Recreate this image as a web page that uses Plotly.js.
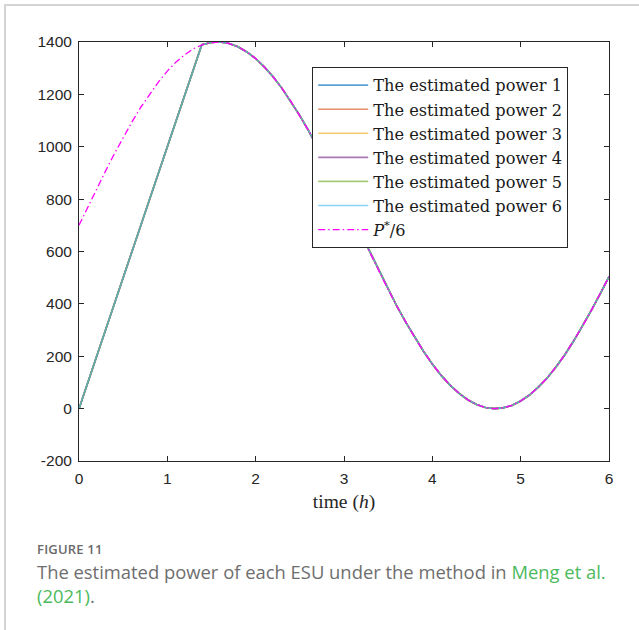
<!DOCTYPE html>
<html>
<head>
<meta charset="utf-8">
<script src="https://cdn.plot.ly/plotly-3.0.1.min.js"></script>
<style>
  html, body { margin: 0; padding: 0; background: #fff; }
  #wrap { position: relative; width: 639px; height: 630px; overflow: hidden; }
  #frame { position: absolute; left: 4px; top: 4px; width: 640px; height: 640px;
           border-left: 2px solid #d4d4d4; border-top: 2px solid #d4d4d4; }
  #chart { position: absolute; left: 0; top: 0; width: 639px; height: 630px; }
  #caption { position: absolute; left: 37px; top: 540px; width: 595px;
             font-family: "Open Sans", "Noto Sans", sans-serif; color: #6e6e6e; }
  #caption .fig { font-size: 13px; font-weight: 600; letter-spacing: 0.2px; color: #6a6a6a; }
  #caption .txt { font-size: 18.4px; line-height: 24px; margin-top: 2px; }
  #caption .ref { color: #4cba5c; }
</style>
</head>
<body>
<div id="wrap">
  <div id="frame"></div>
  <div id="chart"></div>
  <div id="caption">
    <div class="fig">FIGURE 11</div>
    <div class="txt">The estimated power of each ESU under the method in <span class="ref">Meng et al. (2021)</span>.</div>
  </div>
</div>
<script>
// Reference power P*/6 sampled every 0.1 h
const refTime = [0.0,0.1,0.2,0.3,0.4,0.5,0.6,0.7,0.8,0.9,1.0,1.1,1.2,1.3,1.4,1.5,1.6,1.7,1.8,1.9,
  2.0,2.1,2.2,2.3,2.4,2.5,2.6,2.7,2.8,2.9,3.0,3.1,3.2,3.3,3.4,3.5,3.6,3.7,3.8,3.9,
  4.0,4.1,4.2,4.3,4.4,4.5,4.6,4.7,4.8,4.9,5.0,5.1,5.2,5.3,5.4,5.5,5.6,5.7,5.8,5.9,6.0];
const refPower = [700,770,839,907,973,1036,1095,1151,1202,1248,1289,1324,1352,1375,1390,1398,1400,1394,1382,1362,
  1337,1304,1266,1222,1173,1119,1061,999,934,867,799,729,659,590,521,454,390,329,272,219,
  170,127,90,59,34,16,4,0,3,12,29,52,82,117,159,206,258,315,375,438,504];

// Estimated power of the ESUs (all six overlap): ramp from zero, then tracking
const estTime = [0.0,1.39,1.5,1.6,1.7,1.8,1.9,
  2.0,2.1,2.2,2.3,2.4,2.5,2.6,2.7,2.8,2.9,3.0,3.1,3.2,3.3,3.4,3.5,3.6,3.7,3.8,3.9,
  4.0,4.1,4.2,4.3,4.4,4.5,4.6,4.7,4.8,4.9,5.0,5.1,5.2,5.3,5.4,5.5,5.6,5.7,5.8,5.9,6.0];
const estPower = [0,1390,1398,1400,1394,1382,1362,
  1337,1304,1266,1222,1173,1119,1061,999,934,867,799,729,659,590,521,454,390,329,272,219,
  170,127,90,59,34,16,4,0,3,12,29,52,82,117,159,206,258,315,375,438,504];

const seriesNames = ["The estimated power 1","The estimated power 2","The estimated power 3",
  "The estimated power 4","The estimated power 5","The estimated power 6"];
const seriesColors = ["#0072BD","#D95319","#EDB120","#7E2F8E","#77AC30","#4DBEEE"];

const yTicks = [-200,0,200,400,600,800,1000,1200,1400];
const yTickText = ["-200","0","200","400","600","800","1000","1200","1400"];
const xTicks = [0,1,2,3,4,5,6];

const traces = seriesNames.map((name, i) => ({
  x: estTime, y: estPower, name: name, type: "scatter", mode: "lines",
  opacity: 0.65,
  line: { color: seriesColors[i], width: 1.6 }
}));
traces.push({
  x: refTime, y: refPower, name: "<i>P</i><sup>*</sup>/6", type: "scatter", mode: "lines",
  line: { color: "#FF00FF", width: 1.3, dash: "7px,3px,1.5px,3px" }
});

const axisCommon = {
  showline: true, linecolor: "#262626", linewidth: 1, mirror: "ticks",
  ticks: "inside", ticklen: 5, tickcolor: "#262626", showgrid: false, zeroline: false,
  ticklabelstandoff: 3,
  tickfont: { family: "Liberation Sans, Arial, sans-serif", size: 15.5, color: "#262626" }
};

const layout = {
  width: 639, height: 630,
  margin: { l: 79, r: 30, t: 42, b: 169 },
  paper_bgcolor: "rgba(0,0,0,0)", plot_bgcolor: "#fff",
  showlegend: true,
  xaxis: Object.assign({}, axisCommon, {
    range: [0, 6], tickvals: xTicks,
    title: { text: "time (<i>h</i>)", standoff: 8,
             font: { family: "Liberation Serif, DejaVu Serif, serif", size: 19.5, color: "#262626" } }
  }),
  yaxis: Object.assign({}, axisCommon, {
    range: [-200, 1400], tickvals: yTicks, ticktext: yTickText
  }),
  legend: {
    x: 0.44, y: 0.94, xanchor: "left", yanchor: "top",
    bgcolor: "#fff", bordercolor: "#262626", borderwidth: 1,
    itemwidth: 50,
    font: { family: "DejaVu Serif, Liberation Serif, serif", size: 16.2, color: "#1a1a1a" },
    tracegroupgap: 0
  }
};

Plotly.newPlot("chart", traces, layout, { displayModeBar: false, staticPlot: true });
</script>
</body>
</html>
